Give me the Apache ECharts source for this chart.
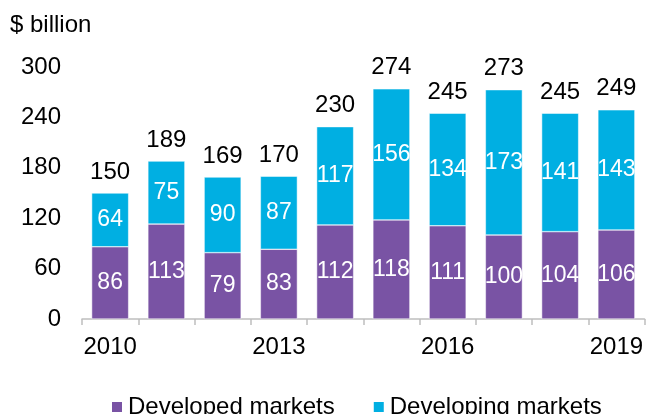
<!DOCTYPE html>
<html>
<head>
    <meta charset="utf-8">
    <title>Developed vs developing markets</title>
    <script src="https://cdn.jsdelivr.net/npm/echarts@6/dist/echarts.min.js"></script>
    <style>
        html, body { margin: 0; padding: 0; background: #fff; }
        #chart { width: 646px; height: 414px; }
    </style>
</head>
<body>
<div id="chart"></div>
<script>
    var years = ['2010', '2011', '2012', '2013', '2014', '2015', '2016', '2017', '2018', '2019'];
    var developed = [86, 113, 79, 83, 112, 118, 111, 100, 104, 106];
    var developing = [64, 75, 90, 87, 117, 156, 134, 173, 141, 143];
    var totals = [150, 189, 169, 170, 230, 274, 245, 273, 245, 249];

    var font = 'Liberation Sans, Arial, sans-serif';
    var chart = echarts.init(document.getElementById('chart'));

    var option = {
        animation: false,
        textStyle: { fontFamily: font },
        title: {
            text: '$ billion',
            left: 5,
            top: 8,
            textStyle: { fontSize: 24, fontWeight: 'normal', color: '#000', fontFamily: font }
        },
        legend: {
            data: ['Developed markets', 'Developing markets'],
            left: 105,
            top: 390,
            itemWidth: 12,
            itemHeight: 12,
            itemGap: 37,
            icon: 'rect',
            textStyle: { fontSize: 24, color: '#000', fontFamily: font }
        },
        grid: { left: 82, right: 0, top: 67, bottom: 95 },
        xAxis: {
            type: 'category',
            data: years,
            axisLine: { lineStyle: { color: '#bfbfbf', width: 1.5 } },
            axisTick: { show: true, interval: 0, length: 6, lineStyle: { color: '#bfbfbf', width: 1.5 } },
            axisLabel: { interval: 2, fontSize: 24, color: '#000', margin: 16 }
        },
        yAxis: {
            type: 'value',
            min: 0,
            max: 300,
            interval: 60,
            splitLine: { show: false },
            axisLine: { show: false },
            axisTick: { show: false },
            axisLabel: { fontSize: 24, color: '#000', margin: 21 }
        },
        series: [
            {
                name: 'Developed markets',
                type: 'bar',
                stack: 'all',
                barWidth: 37,
                data: developed,
                itemStyle: { color: '#7953a4', borderColor: '#ffffff', borderWidth: 0.5 },
                label: { show: true, position: 'inside', color: '#fff', fontSize: 23 }
            },
            {
                name: 'Developing markets',
                type: 'bar',
                stack: 'all',
                barWidth: 37,
                data: developing,
                itemStyle: { color: '#00afe2', borderColor: '#ffffff', borderWidth: 0.5 },
                label: { show: true, position: 'inside', color: '#fff', fontSize: 23 }
            },
            {
                name: 'Total',
                type: 'bar',
                stack: 'all',
                barWidth: 37,
                data: totals.map(function () { return 0; }),
                itemStyle: { color: 'transparent' },
                label: {
                    show: true,
                    position: 'top',
                    distance: 9,
                    color: '#000',
                    fontSize: 24,
                    formatter: function (p) { return totals[p.dataIndex]; }
                }
            }
        ]
    };
    chart.setOption(option);
</script>
</body>
</html>
